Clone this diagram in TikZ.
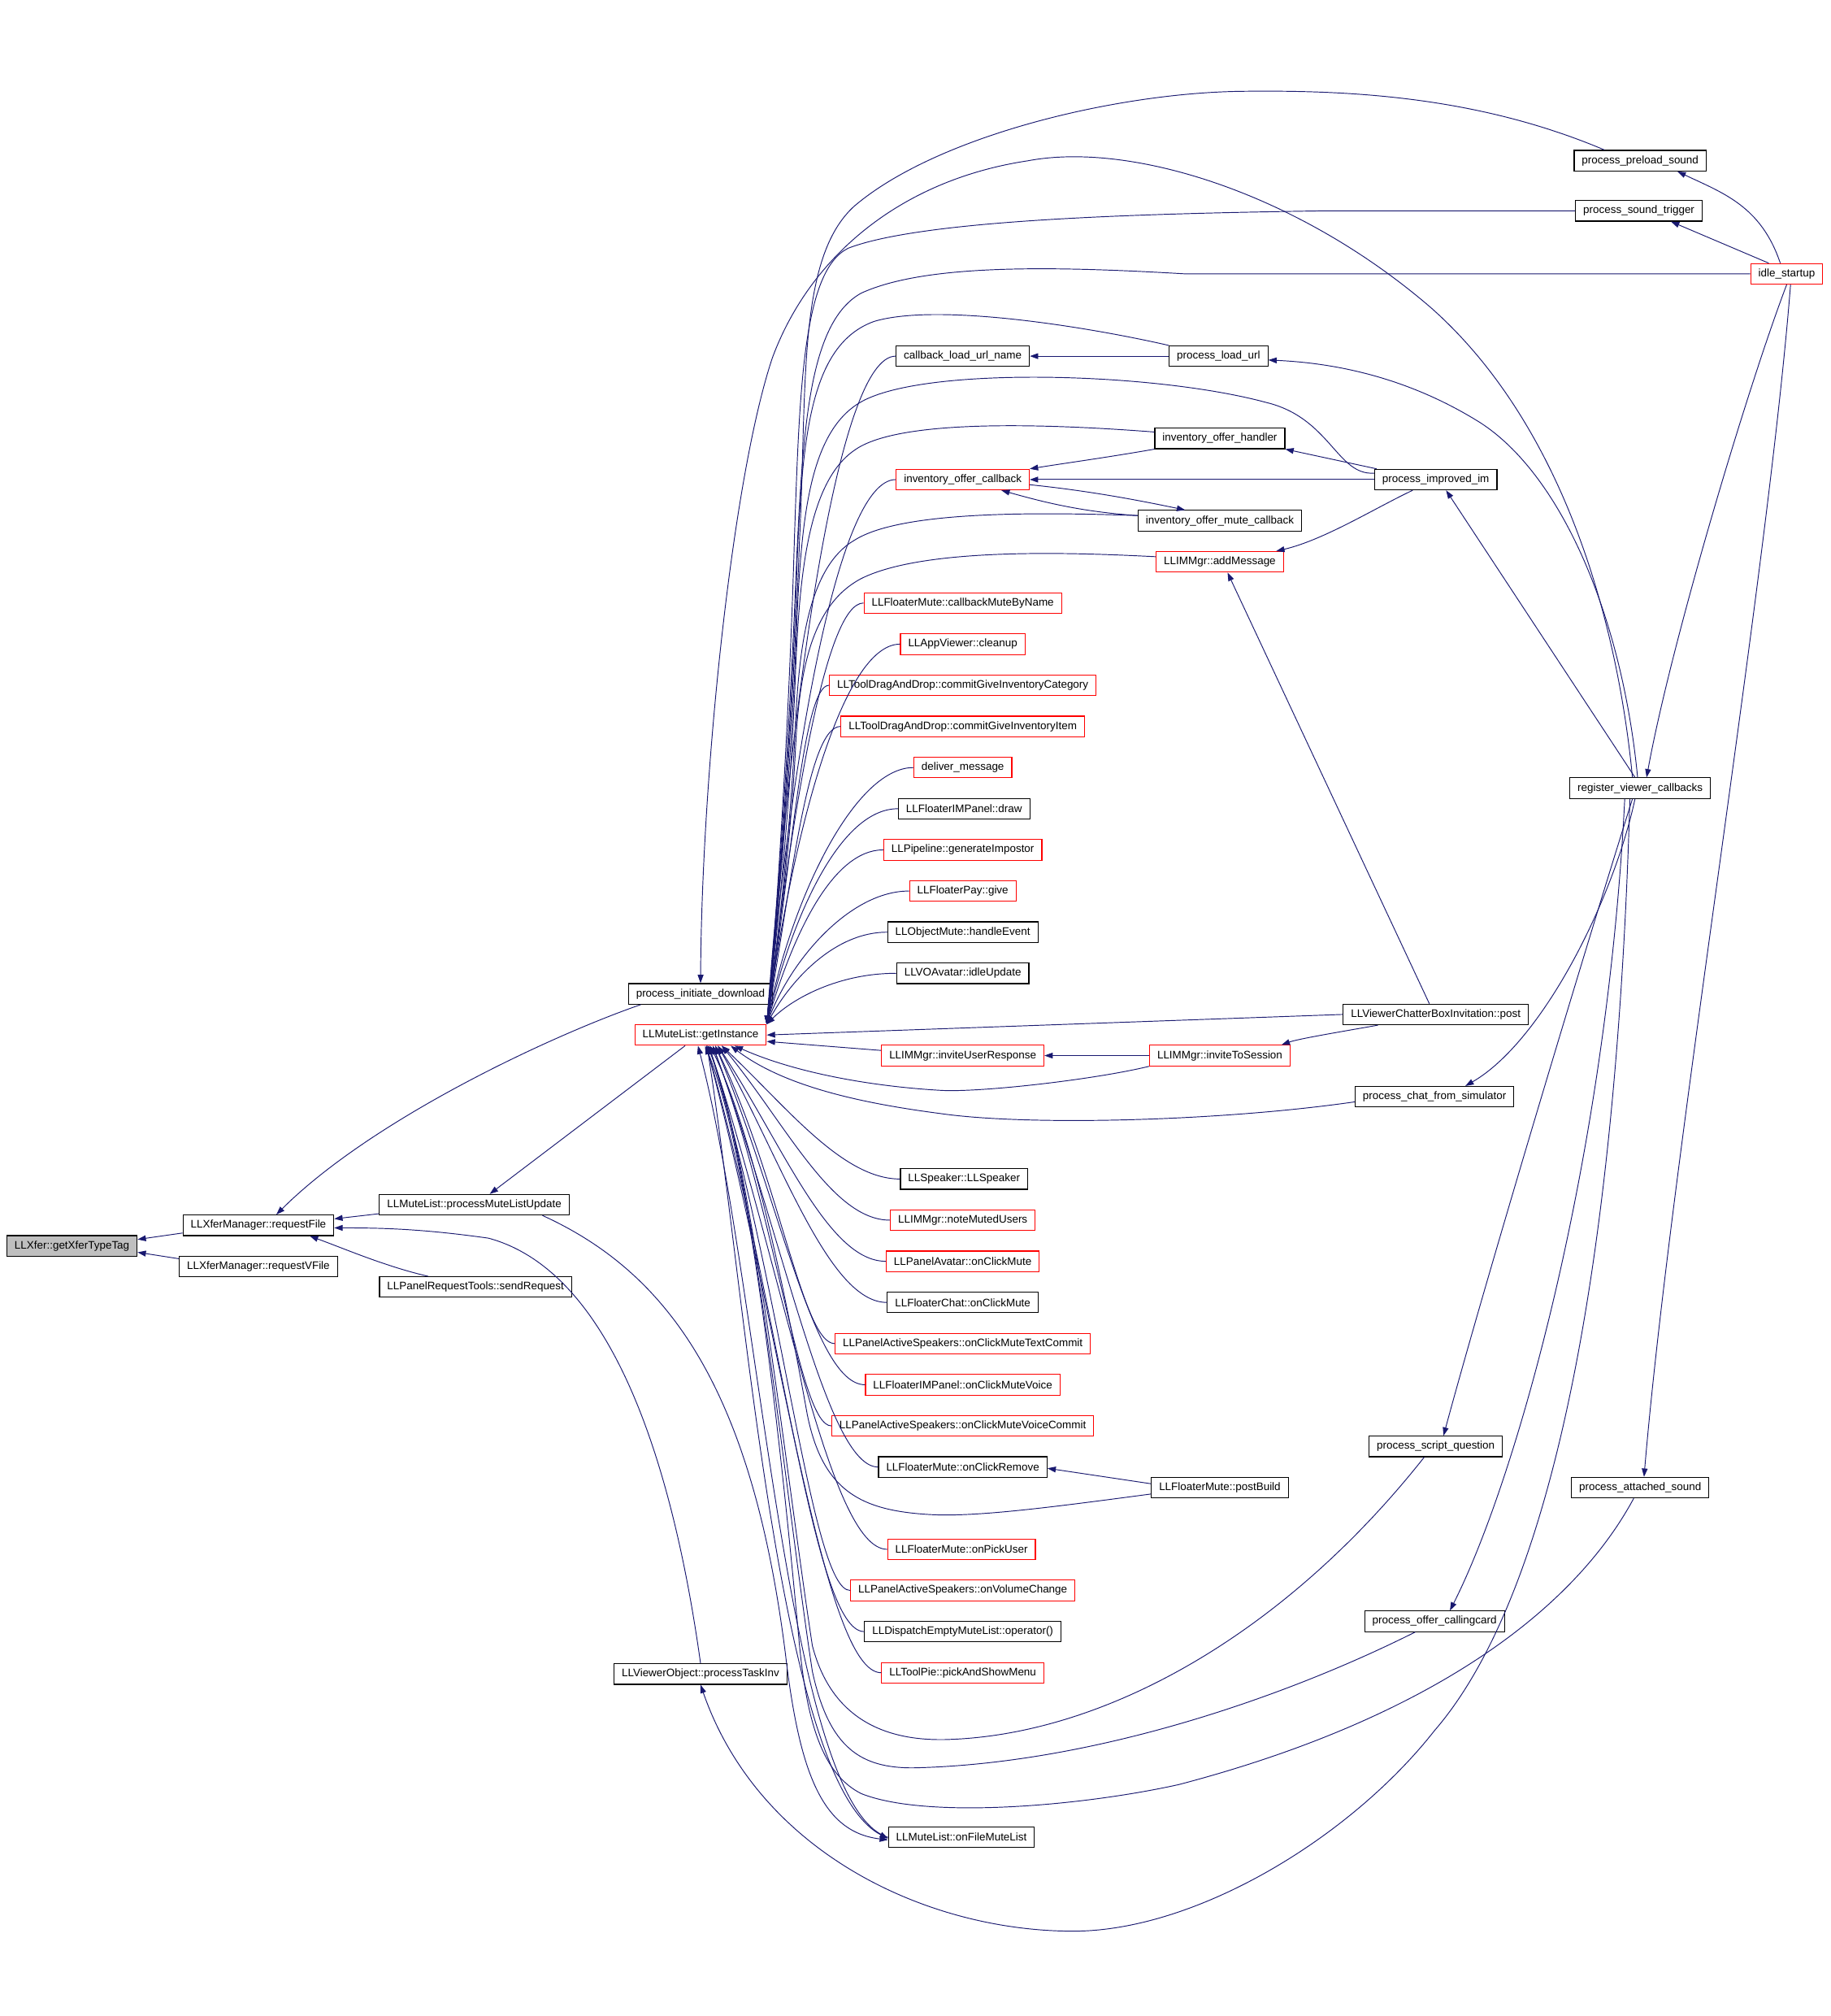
\documentclass[tikz,border=0pt]{standalone}
\usepackage{fontspec}
\setmainfont{Liberation Sans}
\usetikzlibrary{arrows.meta}
\definecolor{edgeblue}{RGB}{25,25,112}

\begin{document}
\begin{tikzpicture}[x=1pt,y=-1pt,
  fn/.style={draw=black,fill=white,line width=0.7pt,inner xsep=6pt,inner ysep=0pt,
    minimum height=16pt,font=\fontsize{8.5}{10}\selectfont},
  fnred/.style={fn,draw=red},
  call/.style={draw=edgeblue,line width=0.6pt,-{Triangle[length=6.5pt,width=4.5pt]}}]
  \fill[white] (0,0) rectangle (1424,1568);
  \useasboundingbox (0,0) rectangle (1424,1568);

  % left part
  \node[fn,fill=gray!50] (xfer) at (56,969) {LLXfer::getXferTypeTag};
  \node[fn] (reqFile) at (201,953) {LLXferManager::requestFile};
  \node[fn] (reqVFile) at (201,985) {LLXferManager::requestVFile};
  \node[fn] (procMLU) at (369,937) {LLMuteList::processMuteListUpdate};
  \node[fn] (sendReq) at (370,1001) {LLPanelRequestTools::sendRequest};
  \node[fn] (taskInv) at (545,1302) {LLViewerObject::processTaskInv};
  \node[fn] (initDL) at (545,773) {process\_initiate\_download};
  \node[fnred] (getInst) at (545,805) {LLMuteList::getInstance};

  % callers of getInstance
  \node[fn] (cbLoadUrl) at (749,277) {callback\_load\_url\_name};
  \node[fnred] (invOfferCb) at (749,373) {inventory\_offer\_callback};
  \node[fnred] (cbMuteByName) at (749,469) {LLFloaterMute::callbackMuteByName};
  \node[fnred] (appCleanup) at (749,501) {LLAppViewer::cleanup};
  \node[fnred] (commitCat) at (749,533) {LLToolDragAndDrop::commitGiveInventoryCategory};
  \node[fnred] (commitItem) at (749,565) {LLToolDragAndDrop::commitGiveInventoryItem};
  \node[fnred] (deliverMsg) at (749,597) {deliver\_message};
  \node[fn] (imDraw) at (750,629) {LLFloaterIMPanel::draw};
  \node[fnred] (genImpostor) at (749,661) {LLPipeline::generateImpostor};
  \node[fnred] (payGive) at (749,693) {LLFloaterPay::give};
  \node[fn] (objMute) at (749,725) {LLObjectMute::handleEvent};
  \node[fn] (idleUpd) at (749,757) {LLVOAvatar::idleUpdate};
  \node[fnred] (inviteResp) at (749,821) {LLIMMgr::inviteUserResponse};
  \node[fn] (speaker) at (750,917) {LLSpeaker::LLSpeaker};
  \node[fnred] (noteMuted) at (749,949) {LLIMMgr::noteMutedUsers};
  \node[fnred] (avatarMute) at (749,981) {LLPanelAvatar::onClickMute};
  \node[fn] (chatMute) at (749,1013) {LLFloaterChat::onClickMute};
  \node[fnred] (textCommit) at (749,1045) {LLPanelActiveSpeakers::onClickMuteTextCommit};
  \node[fnred] (muteVoice) at (749,1077) {LLFloaterIMPanel::onClickMuteVoice};
  \node[fnred] (voiceCommit) at (749,1109) {LLPanelActiveSpeakers::onClickMuteVoiceCommit};
  \node[fn] (clickRemove) at (749,1141) {LLFloaterMute::onClickRemove};
  \node[fnred] (pickUser) at (748,1205) {LLFloaterMute::onPickUser};
  \node[fnred] (volChange) at (749,1237) {LLPanelActiveSpeakers::onVolumeChange};
  \node[fn] (emptyMute) at (749,1269) {LLDispatchEmptyMuteList::operator()};
  \node[fnred] (pickMenu) at (749,1301) {LLToolPie::pickAndShowMenu};
  \node[fn] (fileMute) at (748,1429) {LLMuteList::onFileMuteList};

  % further callers
  \node[fn] (loadUrl) at (948,277) {process\_load\_url};
  \node[fn] (invHandler) at (949,341) {inventory\_offer\_handler};
  \node[fn] (invMuteCb) at (949,405) {inventory\_offer\_mute\_callback};
  \node[fnred] (addMsg) at (949,437) {LLIMMgr::addMessage};
  \node[fnred] (inviteSess) at (949,821) {LLIMMgr::inviteToSession};
  \node[fn] (postBuild) at (949,1157) {LLFloaterMute::postBuild};
  \node[fn] (improvedIm) at (1117,373) {process\_improved\_im};
  \node[fn] (chatterPost) at (1117,789) {LLViewerChatterBoxInvitation::post};
  \node[fn] (chatSim) at (1116,853) {process\_chat\_from\_simulator};
  \node[fn] (scriptQ) at (1117,1125) {process\_script\_question};
  \node[fn] (offerCard) at (1116,1261) {process\_offer\_callingcard};
  \node[fn] (preload) at (1276,125) {process\_preload\_sound};
  \node[fn] (soundTrig) at (1275,164) {process\_sound\_trigger};
  \node[fn] (register) at (1276,613) {register\_viewer\_callbacks};
  \node[fn] (attSound) at (1276,1157) {process\_attached\_sound};
  \node[fnred] (idle) at (1390,213) {idle\_startup};

  % left edges
  \draw[call] ([yshift=-6pt]reqFile.west) -- ([yshift=5pt]xfer.east);
  \draw[call] ([yshift=6pt]reqVFile.west) -- ([yshift=-5pt]xfer.east);
  \draw[call] ([yshift=-7pt]procMLU.west) -- ([yshift=5pt]reqFile.east);
  \draw[call] ([xshift=-37pt]sendReq.north) .. controls (300,985) and (270,972) .. ([xshift=40pt]reqFile.south);
  \draw[call] ([xshift=10pt]initDL.south west) .. controls (430,805) and (290,870) .. ([xshift=14pt]reqFile.north);
  \draw[call] (taskInv.north) .. controls (525,1150) and (480,990) .. (380,963) .. controls (330,956) and (300,955) .. ([yshift=-2pt]reqFile.east);
  \draw[call] ([xshift=-12pt]getInst.south) -- ([xshift=12pt]procMLU.north);
  \draw[call] ([xshift=53pt]procMLU.south) .. controls (520,990) and (585,1080) .. (611,1286) .. controls (622,1380) and (640,1425) .. ([yshift=-2pt]fileMute.west);
  \draw[call] ([xshift=5pt]getInst.south) .. controls (580,1000) and (605,1385) .. ([yshift=-1pt]fileMute.west);
  \draw[call] (fileMute.west) .. controls (612,1405) and (592,1000) .. ([xshift=-2pt]getInst.south);

  % into getInstance from above
  \draw[call] (cbLoadUrl.west) .. controls +(-45,0) and +(20,-260) .. (getInst.north east);
  \draw[call] (invOfferCb.west) .. controls +(-45,0) and +(20,-212) .. (getInst.north east);
  \draw[call] (cbMuteByName.west) .. controls +(-30,0) and +(20,-164) .. (getInst.north east);
  \draw[call] (appCleanup.west) .. controls +(-45,0) and +(20,-148) .. (getInst.north east);
  \draw[call] (commitCat.west) .. controls +(-20,0) and +(20,-132) .. (getInst.north east);
  \draw[call] (commitItem.west) .. controls +(-25,0) and +(20,-116) .. (getInst.north east);
  \draw[call] (deliverMsg.west) .. controls +(-45,0) and +(20,-100) .. (getInst.north east);
  \draw[call] (imDraw.west) .. controls +(-45,0) and +(20,-84) .. (getInst.north east);
  \draw[call] (genImpostor.west) .. controls +(-40,0) and +(20,-68) .. (getInst.north east);
  \draw[call] (payGive.west) .. controls +(-45,0) and +(20,-52) .. (getInst.north east);
  \draw[call] (objMute.west) .. controls +(-40,0) and +(20,-36) .. (getInst.north east);
  \draw[call] (idleUpd.west) .. controls +(-45,0) and +(20,-20) .. (getInst.north east);
  \draw[call] (preload.north west) ++(24,0) .. controls (1150,75) and (1050,70) .. (967,71) .. controls (870,72) and (730,105) .. (665,160) .. controls (620,200) and (628,300) .. (622,420) .. controls (617,560) and (605,720) .. (getInst.north east);
  \draw[call] (soundTrig.west) -- (1029,164) .. controls (900,166) and (720,170) .. (660,193) .. controls (625,210) and (622,300) .. (618,420) .. controls (614,560) and (604,720) .. (getInst.north east);
  \draw[call] (idle.west) -- (922,213) .. controls (820,207) and (720,205) .. (670,228) .. controls (630,250) and (625,330) .. (620,430) .. controls (615,560) and (604,720) .. (getInst.north east);
  \draw[call] (loadUrl.north west) .. controls (850,255) and (730,235) .. (680,250) .. controls (630,268) and (624,340) .. (620,440) .. controls (616,570) and (604,720) .. (getInst.north east);
  \draw[call] ([yshift=5pt]improvedIm.west) .. controls (1040,370) and (1035,325) .. (985,313) .. controls (900,290) and (730,285) .. (675,310) .. controls (630,330) and (624,400) .. (620,480) .. controls (616,600) and (604,720) .. (getInst.north east);
  \draw[call] ([yshift=5pt]invHandler.west) .. controls (820,330) and (700,325) .. (665,350) .. controls (628,375) and (622,450) .. (619,520) .. controls (615,630) and (604,730) .. (getInst.north east);
  \draw[call] ([yshift=4pt]invMuteCb.west) .. controls (800,398) and (700,398) .. (665,420) .. controls (630,440) and (622,500) .. (619,560) .. controls (615,650) and (604,740) .. (getInst.north east);
  \draw[call] ([yshift=4pt]addMsg.west) .. controls (840,430) and (720,425) .. (670,450) .. controls (632,470) and (622,520) .. (619,580) .. controls (615,660) and (604,740) .. (getInst.north east);

  % into getInstance from the side and below
  \draw[call] (chatterPost.west) -- (getInst.east);
  \draw[call] ([yshift=4pt]inviteResp.west) -- ([yshift=-5pt]getInst.east);
  \draw[call] (inviteSess.south west) .. controls (850,840) and (760,850) .. (731,848) .. controls (680,845) and (620,835) .. ([xshift=-25pt]getInst.south east);
  \draw[call] ([yshift=-4pt]chatSim.west) .. controls (950,872) and (800,876) .. (731,866) .. controls (670,858) and (610,845) .. ([xshift=-28pt]getInst.south east);
  \draw[call] (speaker.west) .. controls +(-45,0) and +(50,47) .. ([xshift=-35pt]getInst.south east);
  \draw[call] (noteMuted.west) .. controls +(-45,0) and +(50,61) .. ([xshift=-35pt]getInst.south east);
  \draw[call] (avatarMute.west) .. controls +(-45,0) and +(50,76) .. ([xshift=-38pt]getInst.south east);
  \draw[call] (chatMute.west) .. controls +(-45,0) and +(50,90) .. ([xshift=-38pt]getInst.south east);
  \draw[call] (textCommit.west) .. controls +(-25,0) and +(50,104) .. ([xshift=-40pt]getInst.south east);
  \draw[call] (muteVoice.west) .. controls +(-40,0) and +(50,119) .. ([xshift=-40pt]getInst.south east);
  \draw[call] (voiceCommit.west) .. controls +(-25,0) and +(50,133) .. ([xshift=-42pt]getInst.south east);
  \draw[call] (clickRemove.west) .. controls +(-40,0) and +(55,148) .. ([xshift=-42pt]getInst.south east);
  \draw[call] (pickUser.west) .. controls +(-45,0) and +(58,176) .. ([xshift=-45pt]getInst.south east);
  \draw[call] (volChange.west) .. controls +(-30,0) and +(58,191) .. ([xshift=-45pt]getInst.south east);
  \draw[call] (emptyMute.west) .. controls +(-40,0) and +(58,205) .. ([xshift=-47pt]getInst.south east);
  \draw[call] (pickMenu.west) .. controls +(-45,0) and +(58,220) .. ([xshift=-47pt]getInst.south east);
  \draw[call] ([yshift=-5pt]postBuild.west) .. controls (820,1172) and (760,1180) .. (724,1178) .. controls (670,1175) and (640,1160) .. (628,1100) .. controls (610,1000) and (585,880) .. ([xshift=-44pt]getInst.south east);
  \draw[call] ([xshift=-9pt]scriptQ.south) .. controls (1000,1270) and (860,1350) .. (735,1353) .. controls (680,1354) and (645,1330) .. (632,1280) .. controls (612,1150) and (585,900) .. ([xshift=-46pt]getInst.south east);
  \draw[call] ([xshift=-15pt]offerCard.south) .. controls (1000,1320) and (850,1372) .. (710,1375) .. controls (670,1375) and (645,1360) .. (632,1300) .. controls (612,1170) and (585,900) .. ([xshift=-46pt]getInst.south east);
  \draw[call] ([xshift=-5pt]attSound.south) .. controls (1220,1260) and (1100,1340) .. (917,1388) .. controls (840,1405) and (720,1415) .. (670,1395) .. controls (640,1380) and (628,1340) .. (622,1280) .. controls (610,1150) and (585,900) .. ([xshift=-48pt]getInst.south east);

  % among the callers
  \draw[call] (loadUrl.west) -- (cbLoadUrl.east);
  \draw[call] (invHandler.south west) .. controls (860,356) and (830,360) .. (invOfferCb.north east);
  \draw[call] (improvedIm.west) -- (invOfferCb.east);
  \draw[call] ([yshift=-4pt]invOfferCb.east) .. controls (850,382) and (890,390) .. ([xshift=-27pt]invMuteCb.north);
  \draw[call] ([yshift=4pt]invMuteCb.west) .. controls (840,398) and (810,390) .. ([xshift=30pt]invOfferCb.south);
  \draw[call] ([xshift=-46pt]improvedIm.north) -- (invHandler.south east);
  \draw[call] ([xshift=-18pt]improvedIm.south) .. controls (1070,395) and (1030,420) .. ([xshift=-6pt]addMsg.north east);
  \draw[call] ([xshift=-5pt]chatterPost.north) -- ([xshift=6pt]addMsg.south);
  \draw[call] ([xshift=-45pt]chatterPost.south) .. controls (1040,803) and (1010,808) .. ([xshift=48pt]inviteSess.north);
  \draw[call] (inviteSess.west) -- (inviteResp.east);
  \draw[call] ([yshift=3pt]postBuild.west) -- ([yshift=-1pt]clickRemove.east);

  % from register_viewer_callbacks and idle_startup
  \draw[call] ([xshift=-6pt]register.north) .. controls (1258,480) and (1215,330) .. (1114,240) .. controls (1010,150) and (880,110) .. (800,125) .. controls (700,140) and (630,200) .. (601,278) .. controls (570,370) and (546,600) .. (initDL.north);
  \draw[call] ([xshift=-2pt]register.north) .. controls (1262,480) and (1215,370) .. (1152,329) .. controls (1090,290) and (1030,282) .. ([yshift=-3pt]loadUrl.east);
  \draw[call] ([xshift=-4pt]register.north) -- ([xshift=8pt]improvedIm.south);
  \draw[call] ([xshift=-4pt]register.south) .. controls (1255,700) and (1200,810) .. ([xshift=24pt]chatSim.north);
  \draw[call] ([xshift=-6pt]register.south) .. controls (1245,700) and (1160,980) .. ([xshift=6pt]scriptQ.north);
  \draw[call] ([xshift=-12pt]register.south) .. controls (1250,900) and (1180,1150) .. ([xshift=12pt]offerCard.north);
  \draw[call] ([xshift=-8pt]register.south) .. controls (1260,900) and (1225,1220) .. (1116,1346) .. controls (1050,1430) and (930,1502) .. (835,1502) .. controls (720,1502) and (590,1440) .. (taskInv.south);
  \draw[call] (idle.south) .. controls (1360,300) and (1300,500) .. ([xshift=5pt]register.north);
  \draw[call] ([xshift=3pt]idle.south) .. controls (1375,450) and (1300,900) .. ([xshift=3pt]attSound.north);
  \draw[call] ([xshift=-5pt]idle.north) .. controls (1370,160) and (1340,150) .. ([xshift=29pt]preload.south);
  \draw[call] ([xshift=-14pt]idle.north) -- ([xshift=25pt]soundTrig.south);
\end{tikzpicture}
\end{document}
